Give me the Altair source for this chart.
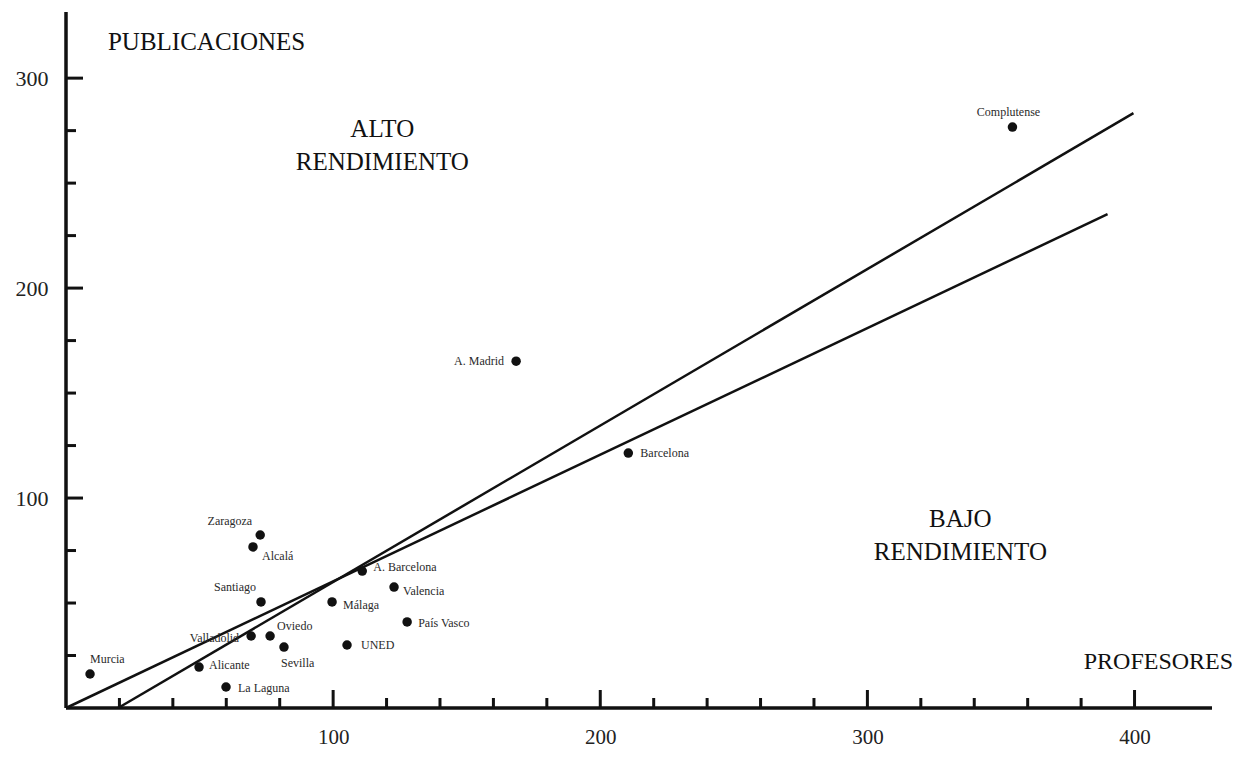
import altair as alt
import pandas as pd

# ---------------- data ----------------
names = ["Complutense", "A. Madrid", "Barcelona", "Zaragoza", "Alcalá",
         "A. Barcelona", "Valencia", "Santiago", "Málaga", "País Vasco",
         "Valladolid", "Oviedo", "Sevilla", "UNED", "Alicante", "La Laguna", "Murcia"]
profesores = [354.3, 168.5, 210.5, 72.7, 70.0,
              110.9, 122.8, 73.0, 99.6, 127.7,
              69.3, 76.4, 81.6, 105.2, 49.8, 59.9, 9.0]
publicaciones = [276.7, 165.2, 121.4, 82.4, 76.7,
                 65.2, 57.6, 50.5, 50.5, 41.0,
                 34.3, 34.3, 29.0, 30.0, 19.5, 10.0, 16.2]

# regression lines (start / end points)
line_id = ["a", "b"]
line_x0 = [0.0, 19.5]
line_y0 = [0.0, 0.0]
line_x1 = [389.9, 399.6]
line_y1 = [235.2, 283.3]

# axes
x_ticks = list(range(20, 401, 20))
y_ticks = list(range(25, 301, 25))
x_labels = [100, 200, 300, 400]
y_labels = [100, 200, 300]
X_MAX = 429.0
Y_MAX = 331.5

# annotations
annot_text = ["PUBLICACIONES", "ALTO", "RENDIMIENTO", "BAJO", "RENDIMIENTO", "PROFESORES"]
annot_x = [15.7, 118.4, 118.4, 334.8, 334.8, 436.9]
annot_y = [317.1, 275.7, 260.0, 90.0, 74.3, 21.9]

# ---------------- style ----------------
W, H = 1146, 696
FONT = "Liberation Serif"
INK = "#111111"
label_align = ["center", "right", "left", "right", "left",
               "left", "left", "right", "left", "left",
               "right", "left", "left", "left", "left", "left", "left"]
label_dx = [-4, -12, 12, -8, 9, 11, 9, -5, 11, 11, -12, 7, -3, 14, 10, 12, 0]
label_dy = [-15, 0, 0, -14, 9, -4, 4, -15, 3, 1, 2, -10, 16, 0, -2, 1, -15]
annot_align = ["left", "center", "center", "center", "center", "right"]
annot_size = [25, 25, 25, 25, 25, 24]
px_x = W / X_MAX
px_y = H / Y_MAX
X_MAJOR_LEN, X_MINOR_LEN = 18 / px_y, 10 / px_y
Y_MAJOR_LEN, Y_MINOR_LEN = 17 / px_x, 10 / px_x

xscale = alt.Scale(domain=[0, X_MAX], nice=False, zero=False)
yscale = alt.Scale(domain=[0, Y_MAX], nice=False, zero=False)
xaxis = alt.Axis(values=x_labels, domain=False, ticks=False, grid=False, title=None,
                 labelFont=FONT, labelFontSize=21, labelPadding=18, labelColor="#222222",
                 labelFontWeight="normal")
yaxis = alt.Axis(values=y_labels, domain=False, ticks=False, grid=False, title=None,
                 labelFont=FONT, labelFontSize=22, labelPadding=18, labelColor="#222222",
                 labelFontWeight="normal")


def X(f):
    return alt.X(f"{f}:Q", scale=xscale, axis=xaxis)


def Y(f):
    return alt.Y(f"{f}:Q", scale=yscale, axis=yaxis)


pts = pd.DataFrame({"name": names, "x": profesores, "y": publicaciones})

# axis lines
axes_df = pd.DataFrame({"x": [0.0, 0.0], "y": [0.0, 0.0], "x2": [X_MAX, 0.0], "y2": [0.0, Y_MAX]})
axis_lines = alt.Chart(axes_df).mark_rule(color=INK, strokeWidth=3.5).encode(
    x=X("x"), y=Y("y"), x2="x2:Q", y2="y2:Q")

# x ticks
xt = pd.DataFrame({"x": x_ticks, "y": [0.0] * len(x_ticks),
                   "y2": [X_MAJOR_LEN if v % 100 == 0 else X_MINOR_LEN for v in x_ticks]})
x_tick_marks = alt.Chart(xt).mark_rule(color=INK, strokeWidth=3).encode(
    x=X("x"), y=Y("y"), y2="y2:Q")

yt = pd.DataFrame({"y": y_ticks, "x": [0.0] * len(y_ticks),
                   "x2": [Y_MAJOR_LEN if v % 100 == 0 else Y_MINOR_LEN for v in y_ticks]})
y_tick_marks = alt.Chart(yt).mark_rule(color=INK, strokeWidth=3).encode(
    x=X("x"), x2="x2:Q", y=Y("y"))

# regression lines
ld = pd.DataFrame({"id": line_id, "x": line_x0, "y": line_y0, "x2": line_x1, "y2": line_y1})
reg_lines = alt.Chart(ld).mark_rule(color=INK, strokeWidth=2.5).encode(
    x=X("x"), y=Y("y"), x2="x2:Q", y2="y2:Q")

# points
points = alt.Chart(pts).mark_circle(color=INK, size=90, opacity=1).encode(
    x=X("x"), y=Y("y"))

layers = [axis_lines, x_tick_marks, y_tick_marks, reg_lines, points]

# point labels
for i, n in enumerate(names):
    sub = pts.iloc[[i]]
    layers.append(
        alt.Chart(sub).mark_text(font=FONT, fontSize=12, color="#2a2a2a",
                                 align=label_align[i], baseline="middle",
                                 dx=label_dx[i], dy=label_dy[i]).encode(
            x=X("x"), y=Y("y"), text="name:N"))

# annotations
ad = pd.DataFrame({"t": annot_text, "x": annot_x, "y": annot_y})
for i in range(len(annot_text)):
    layers.append(
        alt.Chart(ad.iloc[[i]]).mark_text(font=FONT, fontSize=annot_size[i], color=INK,
                                          align=annot_align[i], baseline="middle").encode(
            x=X("x"), y=Y("y"), text="t:N"))

chart = alt.layer(*layers).properties(
    width=W, height=H,
    padding={"left": 58, "top": 4, "right": 25, "bottom": 41},
    autosize=alt.AutoSizeParams(type="none"),
    background="white",
).configure_view(stroke=None)

chart.save("out.html", embed_options={"renderer": "svg", "actions": False})
